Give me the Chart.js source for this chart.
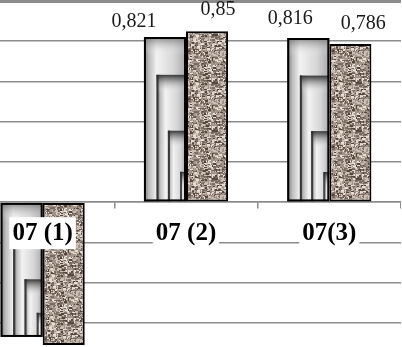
<!DOCTYPE html>
<html>
<head>
<meta charset="utf-8">
<script src="https://cdn.jsdelivr.net/npm/chart.js@4"></script>
<style>
html, body { margin: 0; padding: 0; background: #fff; overflow: hidden; }
#wrap { position: absolute; left: -29px; top: 0; width: 430px; height: 347px; }
</style>
</head>
<body>
<div id="wrap"><canvas id="grafico"></canvas></div>
<script>
// Dados do gráfico
const categorias = ['07 (1)', '07 (2)', '07(3)'];
const serieMetal = [-0.67, 0.821, 0.816];
const serieTextura = [-0.71, 0.85, 0.786];
const yMin = -0.72;
const yMax = 1.0;
const yPasso = 0.2;

// Deslocamento manual dos rótulos (como no original)
const rotuloDesloc = [
    [null, [-31, -15], [-18, -19]],
    [null, [11, -21], [13, -20]]
];

// Proporções do degradê "metal" (retângulos aninhados)
const metalX = [0, 0.3, 0.57, 0.86];
const metalY = [0, 0.23, 0.57, 0.82];

const cinza = '#8c8c8c';

const canvas = document.getElementById('grafico');
const ctx0 = canvas.getContext('2d');

// Textura granulada
function criarTextura() {
    const c = document.createElement('canvas');
    c.width = 48; c.height = 48;
    const g = c.getContext('2d');
    g.fillStyle = '#a3958a';
    g.fillRect(0, 0, 48, 48);
    let s = 12345;
    const rnd = () => (s = (s * 16807) % 2147483647) / 2147483647;
    for (let i = 0; i < 1000; i++) {
        const x = Math.floor(rnd() * 48), y = Math.floor(rnd() * 48);
        const r = rnd();
        g.fillStyle = r < 0.2 ? '#54483f' : r < 0.5 ? '#7a6c62' : r < 0.82 ? '#cbbfb3' : '#e6ded4';
        g.fillRect(x, y, 1 + Math.floor(rnd() * 3), 1 + Math.floor(rnd() * 2));
    }
    return ctx0.createPattern(c, 'repeat');
}

// Plugin: preenchimento metálico da primeira série
const pluginMetal = {
    id: 'metal',
    afterDatasetsDraw(chart) {
        const ctx = chart.ctx;
        chart.getDatasetMeta(0).data.forEach(bar => {
            const p = bar.getProps(['x', 'y', 'base', 'width'], true);
            const left = p.x - p.width / 2, right = p.x + p.width / 2;
            const top = Math.min(p.y, p.base), bottom = Math.max(p.y, p.base);
            const w = right - left, h = bottom - top;
            ctx.save();
            ctx.beginPath();
            ctx.rect(left, top, w, h);
            ctx.clip();
            metalX.forEach((fx, k) => {
                const x0 = left + fx * w, y0 = top + metalY[k] * h;
                const gh = ctx.createLinearGradient(x0, 0, right, 0);
                gh.addColorStop(0, k ? '#5a5a5a' : '#7a7a7a');
                gh.addColorStop(0.12, '#bcbcbc');
                gh.addColorStop(0.3, '#f2f2f2');
                gh.addColorStop(0.7, '#d6d6d6');
                gh.addColorStop(1, '#a8a8a8');
                ctx.fillStyle = gh;
                ctx.fillRect(x0, y0, right - x0, bottom - y0);
                const alto = Math.min(18, (bottom - y0) * 0.6);
                const gv = ctx.createLinearGradient(0, y0, 0, y0 + alto);
                gv.addColorStop(0, k ? 'rgba(35,35,35,0.9)' : 'rgba(100,100,100,0.75)');
                gv.addColorStop(1, 'rgba(255,255,255,0)');
                ctx.fillStyle = gv;
                ctx.fillRect(x0, y0, right - x0, alto);
                if (k) {
                    ctx.fillStyle = 'rgba(45,45,45,0.85)';
                    ctx.fillRect(x0, y0, 2, bottom - y0);
                }
            });
            ctx.restore();
            ctx.lineWidth = 2;
            ctx.strokeStyle = '#000';
            ctx.strokeRect(left + 1, top + 1, w - 2, h - 2);
        });
    }
};

// Plugin: rótulos de valores
const pluginRotulos = {
    id: 'rotulos',
    afterDatasetsDraw(chart) {
        const ctx = chart.ctx;
        ctx.save();
        ctx.font = '20px "Liberation Serif"';
        ctx.fillStyle = '#1a1a1a';
        ctx.textAlign = 'center';
        ctx.textBaseline = 'middle';
        chart.data.datasets.forEach((ds, i) => {
            chart.getDatasetMeta(i).data.forEach((bar, j) => {
                const d = rotuloDesloc[i][j];
                if (!d) return;
                const texto = String(ds.data[j]).replace('.', ',');
                ctx.fillText(texto, bar.x + d[0], bar.y + d[1]);
            });
        });
        ctx.restore();
    }
};

new Chart(canvas, {
    type: 'bar',
    data: {
        labels: categorias,
        datasets: [{
            data: serieMetal,
            backgroundColor: '#dddddd',
            borderColor: '#000',
            borderWidth: 2,
            borderSkipped: false
        }, {
            data: serieTextura,
            backgroundColor: criarTextura(),
            borderColor: '#000',
            borderWidth: 2,
            borderSkipped: false
        }]
    },
    options: {
        responsive: true,
        maintainAspectRatio: false,
        animation: false,
        categoryPercentage: 0.587,
        barPercentage: 1.0,
        layout: { padding: { top: 1, left: 0, right: 0, bottom: 0 } },
        plugins: {
            legend: { display: false },
            tooltip: { enabled: false }
        },
        scales: {
            x: {
                position: { y: 0 },
                grid: {
                    drawOnChartArea: false,
                    drawTicks: true,
                    tickLength: 6,
                    color: cinza,
                    lineWidth: 1.5
                },
                border: { color: cinza, width: 1.5 },
                ticks: {
                    font: { family: 'Liberation Serif', size: 25, weight: 'bold' },
                    color: '#000',
                    padding: 10,
                    maxRotation: 0,
                    autoSkip: false,
                    showLabelBackdrop: true,
                    backdropColor: '#fff',
                    backdropPadding: { x: 3, y: 1 },
                    z: 1
                }
            },
            y: {
                min: yMin,
                max: yMax,
                ticks: { display: false, stepSize: yPasso },
                grid: {
                    drawTicks: false,
                    color: c => {
                        const v = c.tick ? c.tick.value : 0;
                        return Math.abs(Math.round(v / yPasso) * yPasso - v) > 1e-6 ? 'rgba(0,0,0,0)' : cinza;
                    },
                    lineWidth: c => (c.tick && c.tick.value === yMax ? 3 : 1.5)
                },
                border: { display: false }
            }
        }
    },
    plugins: [pluginMetal, pluginRotulos]
});
</script>
</body>
</html>
